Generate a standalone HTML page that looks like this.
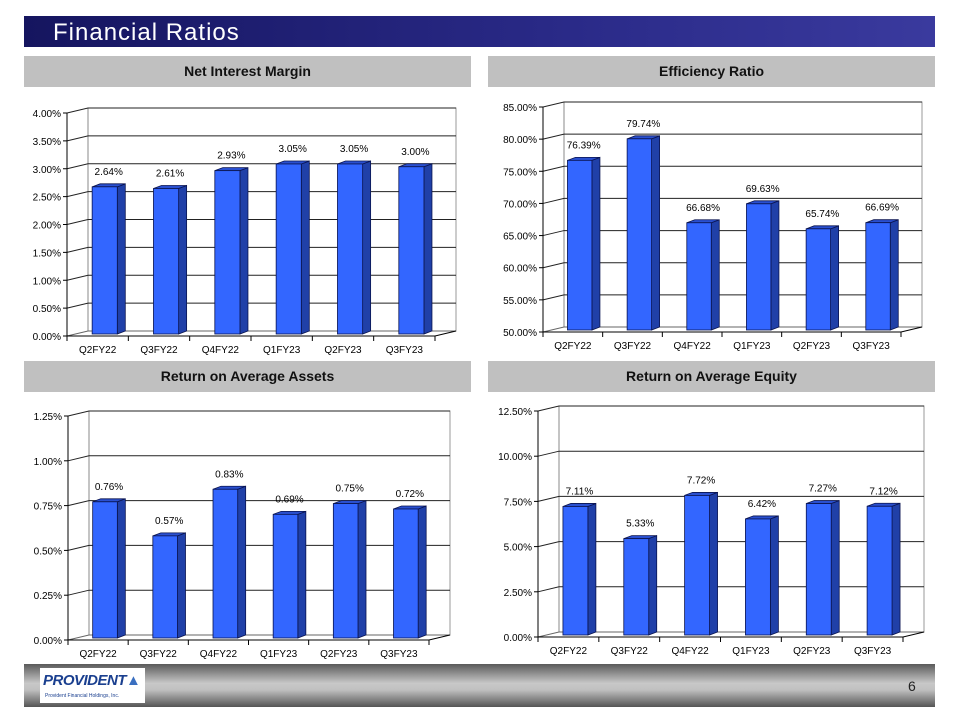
<!DOCTYPE html>
<html><head><meta charset="utf-8"><style>
body{margin:0;background:#fff;}
#root{position:relative;width:960px;height:720px;overflow:hidden;font-family:"Liberation Sans",Arial,sans-serif;}
.hdr{position:absolute;left:24px;top:16px;width:911px;height:31px;background:linear-gradient(90deg,#15155f,#2a2a88 60%,#3a3a9e);color:#fff;font-size:24px;line-height:33px;padding-left:29px;box-sizing:border-box;letter-spacing:1px;}
.sec{position:absolute;height:31px;width:447px;background:#c0c0c0;text-align:center;font-weight:bold;font-size:14px;line-height:31px;color:#111;}
.foot{position:absolute;left:24px;top:664px;width:911px;height:43px;background:linear-gradient(180deg,#5a5a5a,#c8c8c8 45%,#c0c0c0 60%,#555);}
.logo{position:absolute;left:40px;top:668px;width:105px;height:35px;background:#fff;}
svg{position:absolute;left:0;top:0;}
</style></head><body>
<div id="root">
<div class="hdr">Financial Ratios</div>
<div class="sec" style="left:24px;top:56px">Net Interest Margin</div>
<div class="sec" style="left:488px;top:56px">Efficiency Ratio</div>
<div class="sec" style="left:24px;top:361px">Return on Average Assets</div>
<div class="sec" style="left:488px;top:361px">Return on Average Equity</div>
<div class="foot"></div>
<div class="logo">
<div style="font-weight:bold;font-style:italic;color:#1a3f8f;font-size:15px;position:absolute;left:3px;top:4px;letter-spacing:-0.5px">PROVIDENT<span style="color:#3a6fc0">▲</span></div>
<div style="font-size:5px;color:#1a3f8f;position:absolute;left:5px;top:25px">Provident Financial Holdings, Inc.</div></div>
<div style="position:absolute;left:908px;top:678px;font-size:14px;color:#222">6</div>
<svg id="chart" width="960" height="720"></svg>
</div>
<script>
const categories=["Q2FY22","Q3FY22","Q4FY22","Q1FY23","Q2FY23","Q3FY23"];
const nimValues=[2.64,2.61,2.93,3.05,3.05,3.00];
const effValues=[76.39,79.74,66.68,69.63,65.74,66.69];
const roaaValues=[0.76,0.57,0.83,0.69,0.75,0.72];
const roaeValues=[7.11,5.33,7.72,6.42,7.27,7.12];
const nimTicks=[0,0.5,1,1.5,2,2.5,3,3.5,4];
const effTicks=[50,55,60,65,70,75,80,85];
const roaaTicks=[0,0.25,0.5,0.75,1,1.25];
const roaeTicks=[0,2.5,5,7.5,10,12.5];
const svg=document.getElementById('chart');
const NS='http://www.w3.org/2000/svg';
function mk(tag,at,parent){const e=document.createElementNS(NS,tag);for(const k in at)e.setAttribute(k,at[k]);(parent||svg).appendChild(e);return e;}
function chart(name,vals,ticks,fix,g){
 const grp=mk('g',{});
 
 
 const dx=21,dy=-5,min=ticks[0],max=ticks[ticks.length-1];
 const y=v=>g.yb-(v-min)/(max-min)*(g.yb-g.yt);
 const step=(g.x1-g.x0)/categories.length;
 mk('rect',{x:g.x0+dx,y:g.yt+dy,width:g.x1-g.x0,height:g.yb-g.yt,fill:'#fff',stroke:'#999','stroke-width':1},grp);
 mk('line',{x1:g.x0+dx,y1:g.yt+dy,x2:g.x0+dx,y2:g.yb+dy,stroke:'#888'},grp);
 ticks.forEach((t,i)=>{
  const yy=y(t);
  const gl=mk('polyline',{points:`${g.x0},${yy} ${g.x0+dx},${yy+dy} ${g.x1+dx},${yy+dy}`,fill:'none',stroke:i==0?'#666':'#222','stroke-width':1},grp);
  
  
  mk('line',{x1:g.x0-4,y1:yy,x2:g.x0,y2:yy,stroke:'#000'},grp);
  const tl=mk('text',{x:g.x0-6,y:yy+4,'text-anchor':'end','font-size':10,fill:'#000'},grp);
  tl.textContent=t.toFixed(2)+'%';
  
  
 });
 mk('line',{x1:g.x0,y1:g.yt,x2:g.x0,y2:g.yb,stroke:'#000'},grp);
 mk('line',{x1:g.x0,y1:g.yb,x2:g.x1,y2:g.yb,stroke:'#000'},grp);
 mk('line',{x1:g.x1,y1:g.yb,x2:g.x1+dx,y2:g.yb+dy,stroke:'#000'},grp);
 for(let i=0;i<=categories.length;i++){const xx=g.x0+i*step;mk('line',{x1:xx,y1:g.yb,x2:xx,y2:g.yb+5,stroke:'#000'},grp);}
 vals.forEach((v,i)=>{
  const bx=g.x0+i*step+0.41*step,bw=0.41*step,by=y(v)-2,bb=g.yb-2,sd=8,su=3;
  const b=mk('g',{},grp);
  
  
  mk('polygon',{points:`${bx+bw},${by} ${bx+bw+sd},${by-su} ${bx+bw+sd},${bb-su} ${bx+bw},${bb}`,fill:'#2040a8',stroke:'#0a1450','stroke-width':0.8},b);
  mk('polygon',{points:`${bx},${by} ${bx+sd},${by-su} ${bx+bw+sd},${by-su} ${bx+bw},${by}`,fill:'#2a50d0',stroke:'#0a1450','stroke-width':0.8},b);
  mk('rect',{x:bx,y:by,width:bw,height:bb-by,fill:'#3366ff',stroke:'#0a1450','stroke-width':0.8},b);
  const lb=mk('text',{x:bx+bw/2+4,y:by-12,'text-anchor':'middle','font-size':10,fill:'#000'},grp);
  lb.textContent=v.toFixed(2)+'%';
  
  
  const xl=mk('text',{x:g.x0+(i+0.5)*step,y:g.yb+17,'text-anchor':'middle','font-size':10,fill:'#000'},grp);
  xl.textContent=categories[i];
  
  
 });
}
chart('net-interest-margin',nimValues,nimTicks,2,{x0:67,x1:435,yt:113,yb:336});
chart('efficiency-ratio',effValues,effTicks,2,{x0:543,x1:901,yt:107,yb:332});
chart('return-on-average-assets',roaaValues,roaaTicks,2,{x0:68,x1:429,yt:416,yb:640});
chart('return-on-average-equity',roaeValues,roaeTicks,2,{x0:538,x1:903,yt:411,yb:637});
</script>
</body></html>
